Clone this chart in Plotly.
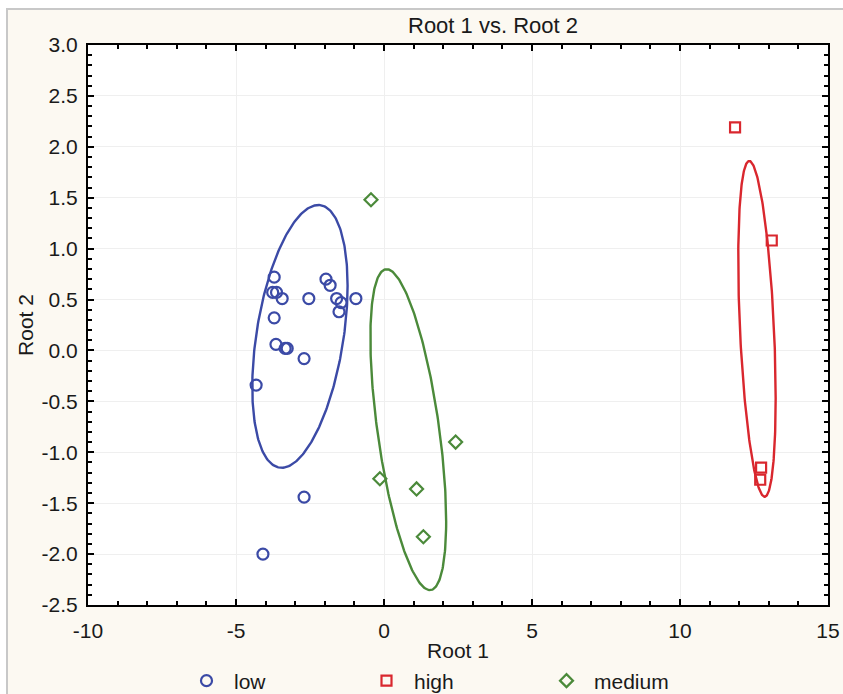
import numpy as np
import plotly.graph_objects as go

# ---- data ----
low_x = [-3.71, -3.76, -3.63, -3.44, -2.54, -1.96, -1.82, -1.60, -1.45, -1.52,
         -0.95, -3.71, -3.65, -3.34, -3.27, -2.70, -4.32, -2.70, -4.09]
low_y = [0.72, 0.57, 0.57, 0.51, 0.51, 0.70, 0.64, 0.51, 0.47, 0.38,
         0.51, 0.32, 0.06, 0.02, 0.02, -0.08, -0.34, -1.44, -2.00]

high_x = [11.86, 13.10, 12.74, 12.71]
high_y = [2.19, 1.08, -1.15, -1.27]

medium_x = [-0.44, 2.42, -0.14, 1.10, 1.33]
medium_y = [1.48, -0.90, -1.26, -1.36, -1.83]

# ellipse parameters (centre x, centre y, half width, half height, x at topmost point)
low_ell = [-2.84, 0.138, 1.61, 1.29, -2.22]
high_ell = [12.60, 0.212, 0.632, 1.649, 12.34]
medium_ell = [0.82, -0.778, 1.28, 1.576, 0.09]

x_ticks = [-10, -5, 0, 5, 10, 15]
y_ticks = [3.0, 2.5, 2.0, 1.5, 1.0, 0.5, 0.0, -0.5, -1.0, -1.5, -2.0, -2.5]

BLUE = "#3b4aa6"
RED = "#d9272e"
GREEN = "#4b8a3a"
FONT = "Liberation Sans, Arial, sans-serif"
FS = 21
TXT = "#1a1a1a"


def ellipse(p):
    cx, cy, rx, ry, xtop = p
    d = np.arccos(np.clip((xtop - cx) / rx, -1, 1))
    t = np.linspace(0, 2 * np.pi, 300)
    return cx + rx * np.cos(t), cy + ry * np.cos(t - d)


fig = go.Figure()

for p, c in [(low_ell, BLUE), (high_ell, RED), (medium_ell, GREEN)]:
    ex, ey = ellipse(p)
    fig.add_trace(go.Scatter(x=ex, y=ey, mode="lines", line=dict(color=c, width=2.4),
                             showlegend=False, hoverinfo="skip"))

fig.add_trace(go.Scatter(x=low_x, y=low_y, mode="markers", name="low",
                         marker=dict(symbol="circle-open", size=11, color=BLUE,
                                     line=dict(width=2.2, color=BLUE))))
fig.add_trace(go.Scatter(x=high_x, y=high_y, mode="markers", name="high",
                         marker=dict(symbol="square-open", size=10, color=RED,
                                     line=dict(width=2.2, color=RED))))
fig.add_trace(go.Scatter(x=medium_x, y=medium_y, mode="markers", name="medium",
                         marker=dict(symbol="diamond-open", size=10, color=GREEN,
                                     line=dict(width=2.2, color=GREEN))))

axis_common = dict(
    showline=True, linecolor="black", linewidth=2, mirror="allticks",
    ticks="inside", ticklen=6, tickwidth=1.5, tickcolor="black",
    showgrid=True, gridcolor="#efefef", gridwidth=1, zeroline=False,
    automargin=False,
    tickfont=dict(family=FONT, size=FS, color=TXT),
)

fig.update_xaxes(range=[-10, 15], tickvals=x_ticks, ticktext=[str(v) for v in x_ticks],
                 minor=dict(dtick=1, ticks="inside", ticklen=4, tickcolor="black", showgrid=False),
                 ticklabelstandoff=6,
                 title=dict(text="Root 1", font=dict(family=FONT, size=FS, color=TXT), standoff=2),
                 **axis_common)
fig.update_yaxes(range=[-2.5, 3.0], tickvals=y_ticks, ticktext=[f"{v:.1f}" for v in y_ticks],
                 minor=dict(dtick=0.1, ticks="inside", ticklen=4, tickcolor="black", showgrid=False),
                 ticklabelstandoff=4,
                 title=dict(text="Root 2", font=dict(family=FONT, size=FS, color=TXT), standoff=2),
                 **axis_common)

fig.update_layout(
    width=843, height=694,
    margin=dict(l=88, r=15, t=45, b=89, autoexpand=False),
    paper_bgcolor="#fcf9f2", plot_bgcolor="white",
    title=dict(text="Root 1 vs. Root 2", x=(493 / 843), xanchor="center",
               y=1 - 25 / 694, yanchor="middle",
               font=dict(family=FONT, size=22, color=TXT)),
    legend=dict(orientation="h", x=(179 - 88) / 740, xanchor="left",
                y=(605 - 681) / 560, yanchor="middle",
                font=dict(family=FONT, size=FS, color=TXT),
                itemwidth=45, entrywidth=120, bgcolor="rgba(0,0,0,0)"),
    shapes=[
        dict(type="rect", xref="paper", yref="paper", x0=-0.125, x1=-0.1108,
             y0=-0.2, y1=1.1, fillcolor="white", line=dict(width=0), layer="above"),
        dict(type="rect", xref="paper", yref="paper", x0=-0.125, x1=1.05,
             y0=1 + (45 - 8) / 560, y1=1.1, fillcolor="white", line=dict(width=0), layer="above"),
        dict(type="line", xref="paper", yref="paper", x0=(7 - 88) / 740, x1=(7 - 88) / 740,
             y0=-0.2, y1=1 + (45 - 8) / 560, line=dict(color="#c8c8c8", width=2), layer="above"),
        dict(type="line", xref="paper", yref="paper", x0=(7 - 88) / 740, x1=1.05,
             y0=1 + (45 - 9) / 560, y1=1 + (45 - 9) / 560, line=dict(color="#c8c8c8", width=2), layer="above"),
    ],
)

fig.write_html("out.html", config={"displayModeBar": False},
               post_script="document.body.style.margin='0';document.body.style.overflow='hidden';")
